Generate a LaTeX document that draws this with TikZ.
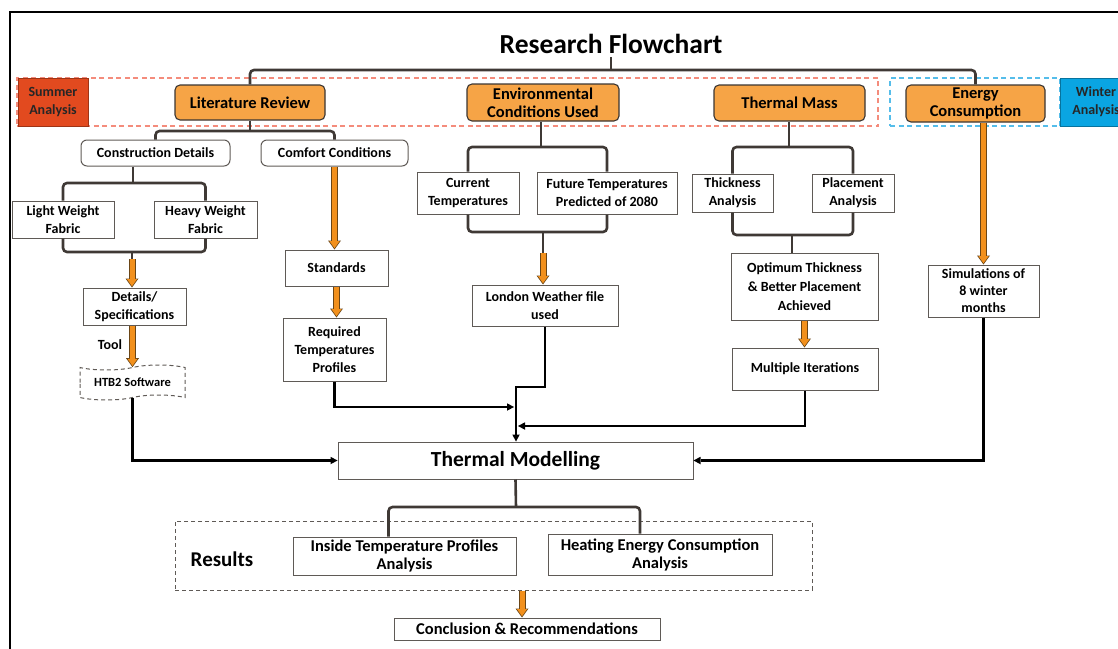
\documentclass[tikz,border=0pt]{standalone}
\usepackage{fontspec}
\setmainfont{Carlito}
\usetikzlibrary{arrows.meta,shapes.symbols}
\definecolor{boxorange}{HTML}{F6A446}
\definecolor{arroworange}{HTML}{F2901C}
\definecolor{arrowedge}{HTML}{6A4516}
\definecolor{boxline}{HTML}{3A3532}
\definecolor{greyline}{HTML}{5F5A56}
\definecolor{braceline}{HTML}{3F3935}
\definecolor{summerred}{HTML}{E24A1F}
\definecolor{winterblue}{HTML}{0AA5E2}
\definecolor{dashred}{HTML}{F48C7C}
\definecolor{dashblue}{HTML}{55BDEA}
\newcommand\lblfont{\fontsize{14}{18}\selectfont\bfseries}
\newcommand\bigfont{\fontsize{16.5}{18}\selectfont\bfseries}
\begin{document}
\begin{tikzpicture}[x=1pt,y=-1pt,
  topbox/.style={draw=boxline, line width=1.1pt, fill=boxorange, rounded corners=5pt, align=center, font=\bigfont, inner sep=1pt},
  roundbox/.style={draw=greyline, line width=1pt, rounded corners=6pt, align=center, font=\lblfont, inner sep=1pt},
  plainbox/.style={draw=greyline, line width=1pt, align=center, font=\lblfont, inner sep=1pt},
  groupbox/.style={dash pattern=on 5pt off 3.5pt, line width=1.2pt, minimum height=48},
  brace/.style={draw=braceline, line width=2.6pt, rounded corners=4pt},
  link/.style={draw=black, line width=2.4pt, -{Triangle[length=7pt,width=7.5pt,line width=0pt]}},
  fatarrow/.style={draw=arroworange, line width=5pt, shorten >=1.3pt,
    -{Triangle[length=7pt,width=10pt,line width=0pt]},
    preaction={draw=arrowedge, line width=7pt, shorten >=0pt, -{Triangle[length=9pt,width=13pt,line width=0pt]}}}
]
\clip (0,0) rectangle (1118,648);
\draw[line width=1.4pt] (10,12) rectangle (1130,660);

% season groups
\node[groupbox, draw=dashred, minimum width=861] (summergroup) at (447.5,102) {};
\node[groupbox, draw=dashblue, minimum width=170] (wintergroup) at (975,102) {};
\node[draw=summerred!70!black, fill=summerred, line width=1pt, minimum width=70, minimum height=48, align=center, inner sep=0pt, font=\fontsize{14}{18}\selectfont\bfseries, text=black!85] (summer) at (53,102) {Summer\\Analysis};
\node[draw=winterblue!70!black, fill=winterblue, line width=1pt, minimum width=72, minimum height=48, align=center, inner sep=0pt, font=\fontsize{14}{18}\selectfont\bfseries, text=black!85] (winter) at (1096,102) {Winter\\Analysis};

\node[font=\fontsize{27.5}{30}\selectfont\bfseries] (title) at (611,44) {Research Flowchart};

% main stages
\node[topbox, minimum width=150, minimum height=35] (litrev) at (250,102.5) {Literature Review};
\node[topbox, minimum width=152, minimum height=37] (env) at (543,102.5) {Environmental\\Conditions Used};
\node[topbox, minimum width=151, minimum height=36] (tmass) at (789.5,103) {Thermal Mass};
\node[topbox, minimum width=139, minimum height=37] (energy) at (975.5,103.5) {Energy\\Consumption};

% literature review branch
\node[roundbox, minimum width=149, minimum height=26] (cons) at (155.5,153) {Construction Details};
\node[roundbox, minimum width=147, minimum height=26] (comfort) at (334.5,153) {Comfort Conditions};
\node[plainbox, minimum width=102, minimum height=37] (light) at (63,219.5) {Light Weight\\Fabric};
\node[plainbox, minimum width=103, minimum height=37] (heavy) at (205.5,219.5) {Heavy Weight\\Fabric};
\node[plainbox, minimum width=103, minimum height=37] (details) at (134.5,306.5) {Details/\\Specifications};
\node[font=\lblfont] (tool) at (110,345) {Tool};
\node[tape, tape bend top=in and out, tape bend bottom=in and out, tape bend height=5pt, draw=greyline, dash pattern=on 4pt off 3pt, line width=1pt, minimum width=105, minimum height=35, inner sep=1pt, font=\fontsize{12.5}{15}\selectfont\bfseries] (htb2) at (132.5,382.5) {HTB2 Software};
\node[plainbox, minimum width=103, minimum height=36] (standards) at (336.5,268) {Standards};
\node[plainbox, minimum width=103, minimum height=63] (reqtemp) at (334.5,349.5) {Required\\Temperatures\\Profiles};

% environmental branch
\node[plainbox, minimum width=102, minimum height=42] (current) at (468,193) {Current\\Temperatures};
\node[plainbox, minimum width=140, minimum height=42] (future) at (607,193) {Future Temperatures\\Predicted of 2080};
\node[plainbox, minimum width=146, minimum height=41] (london) at (545,305.5) {London Weather file\\used};

% thermal mass branch
\node[plainbox, minimum width=81, minimum height=38] (thick) at (732.5,193) {Thickness\\Analysis};
\node[plainbox, minimum width=82, minimum height=38] (place) at (853,193) {Placement\\Analysis};
\node[plainbox, minimum width=147, minimum height=67, font=\fontsize{14}{19}\selectfont\bfseries] (optimum) at (804.5,286.5) {Optimum Thickness\\\& Better Placement\\Achieved};
\node[plainbox, minimum width=146, minimum height=42] (multi) at (805,369) {Multiple Iterations};

% energy branch
\node[plainbox, minimum width=111, minimum height=52, font=\fontsize{14}{17}\selectfont\bfseries] (sims) at (983.5,291) {Simulations of\\8 winter\\months};

% modelling and results
\node[plainbox, minimum width=355, minimum height=37, font=\fontsize{21.5}{24}\selectfont\bfseries] (thermal) at (515.5,460.5) {Thermal Modelling};
\node[draw=greyline, dash pattern=on 4pt off 3pt, line width=1pt, minimum width=637, minimum height=69] (results) at (493.5,555.5) {};
\node[font=\fontsize{21}{24}\selectfont\bfseries] (resultslabel) at (222,559) {Results};
\node[plainbox, minimum width=223, minimum height=38, font=\bigfont] (inside) at (404.5,556) {Inside Temperature Profiles\\Analysis};
\node[plainbox, minimum width=224, minimum height=41, font=\bigfont] (heating) at (660,554.5) {Heating Energy Consumption\\Analysis};
\node[plainbox, minimum width=266, minimum height=22, font=\bigfont] (concl) at (527,629) {Conclusion \& Recommendations};

% brackets
\coordinate (topbar) at (611,70);
\draw[brace] (litrev.north) |- (topbar) -| (energy.north);
\draw[brace] (title.south) -- (topbar);
\coordinate (litbar) at (250,131);
\draw[brace] (cons.north) |- (litbar) -| (comfort.north);
\draw[brace] (litrev.south) -- (litbar);
\coordinate (consbar) at (133,183);
\draw[brace] (light.north) |- (consbar) -| (heavy.north);
\draw[brace] (cons.south -| consbar) -- (consbar);
\coordinate (fabricbar) at (132,252);
\coordinate (fabricstem) at (132,259);
\draw[brace] (light.south) |- (fabricbar) -| (heavy.south);
\draw[brace] (fabricbar) -- (fabricstem);
\coordinate (envbar) at (541,147);
\draw[brace] (current.north) |- (envbar) -| (future.north);
\draw[brace] (env.south -| envbar) -- (envbar);
\coordinate (tempbar) at (543,232);
\coordinate (tempstem) at (543,253);
\draw[brace] (current.south) |- (tempbar) -| (future.south);
\draw[brace] (tempbar) -- (tempstem);
\coordinate (massbar) at (789,147);
\draw[brace] (thick.north) |- (massbar) -| (place.north);
\draw[brace] (tmass.south -| massbar) -- (massbar);
\coordinate (analysisbar) at (792,235);
\draw[brace] (thick.south) |- (analysisbar) -| (place.south);
\draw[brace] (analysisbar) -- (analysisbar |- optimum.north);
\coordinate (thermalbar) at (516,507);
\draw[brace] ([xshift=-16pt]inside.north) |- (thermalbar) -| ([xshift=-20pt]heating.north);
\draw[brace] (thermal.south) -- (thermalbar);

% orange arrows
\draw[fatarrow] (fabricstem) -- (fabricstem |- details.north);
\draw[fatarrow] (details.south -| htb2.north) -- (htb2.north);
\draw[fatarrow] (comfort.south) -- (comfort.south |- standards.north);
\draw[fatarrow] (standards.south) -- (standards.south |- reqtemp.north);
\draw[fatarrow] (tempstem) -- (tempstem |- london.north);
\draw[fatarrow] (optimum.south) -- (optimum.south |- multi.north);
\draw[fatarrow] (sims.north |- energy.south) -- (sims.north);
\coordinate (conclin) at ([xshift=-5pt]concl.north);
\draw[fatarrow] (conclin |- results.south) -- (conclin);

% links into thermal modelling
\coordinate (mergetop) at (516,387);
\coordinate (mergeleft) at (514,407);
\coordinate (mergeright) at (518,426);
\draw[link] (htb2.south) |- (thermal.west);
\draw[link] (london.south) |- (mergetop) -- (mergetop |- thermal.north);
\draw[link] (reqtemp.south) |- (mergeleft);
\draw[link] (multi.south) |- (mergeright);
\draw[link] (sims.south) |- (thermal.east);
\end{tikzpicture}
\end{document}
